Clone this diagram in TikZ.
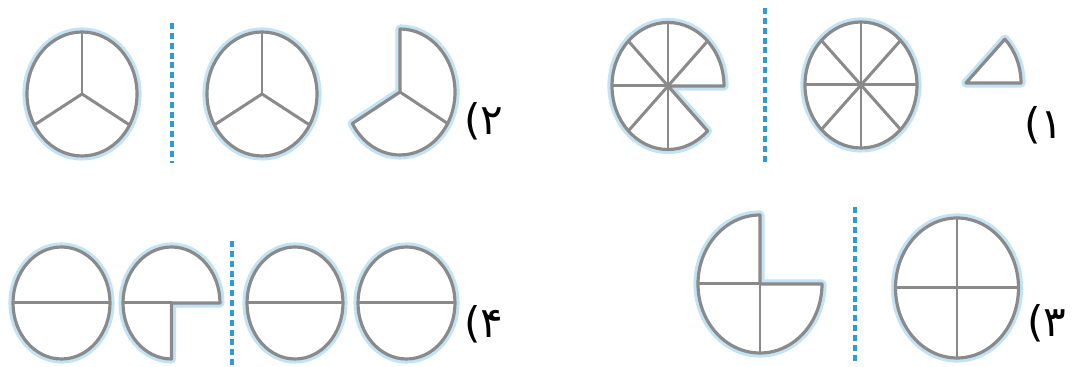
\documentclass[tikz,border=0pt]{standalone}
\usepackage{fontspec}
\newfontfamily\arabicfont{DejaVu Sans}
\definecolor{rimgray}{HTML}{8A8A8A}
\definecolor{glowblue}{HTML}{C2E2F5}
\definecolor{dashblue}{HTML}{2E9AD6}
\tikzset{
  glow/.style={draw=glowblue, line width=2.6pt, line join=round},
  rim/.style={draw=rimgray, line width=0.9pt, line join=round, fill=white},
  spoke/.style={draw=rimgray, line width=0.85pt},
  divider/.style={draw=dashblue, line width=0.9pt, dash pattern=on 1.7pt off 1.1pt},
  numlabel/.style={font=\arabicfont\fontsize{12}{14}\selectfont, inner sep=0pt}
}
\begin{document}
\begin{tikzpicture}[x=0.01cm, y=0.01cm]
\useasboundingbox (0,0) rectangle (1090,367);
% ---------- row 1, left group (2) ----------
% A
\coordinate (A) at (82,273);
\path[glow] (A) ellipse [x radius=55, y radius=62];
\path[rim] (A) ellipse [x radius=55, y radius=62];
\foreach \a in {90,210,330} \draw[spoke] (A) -- ++(\a:55 and 62);
% divider 1
\coordinate (d1t) at (172,344); \coordinate (d1b) at (172,204);
\draw[divider] (d1t) -- (d1b);
% B
\coordinate (B) at (262,273);
\path[glow] (B) ellipse [x radius=55, y radius=62];
\path[rim] (B) ellipse [x radius=55, y radius=62];
\foreach \a in {90,210,330} \draw[spoke] (B) -- ++(\a:55 and 62);
% C
\coordinate (C) at (400,275);
\path[glow] (C) -- ++(90:55 and 63) arc[start angle=90, end angle=-150, x radius=55, y radius=63] -- cycle;
\path[rim] (C) -- ++(90:55 and 63) arc[start angle=90, end angle=-150, x radius=55, y radius=63] -- cycle;
\draw[spoke] (C) -- ++(-30:55 and 63);
\node[numlabel] (L2) at (484,246) {(۲};
% ---------- row 1, right group (1) ----------
% D
\coordinate (D) at (668,281);
\path[glow] (D) -- ++(0:56 and 63.5) arc[start angle=0, end angle=315, x radius=56, y radius=63.5] -- cycle;
\path[rim] (D) -- ++(0:56 and 63.5) arc[start angle=0, end angle=315, x radius=56, y radius=63.5] -- cycle;
\foreach \a in {45,90,...,270} \draw[spoke] (D) -- ++(\a:56 and 63.5);
% divider 2
\coordinate (d2t) at (765,359); \coordinate (d2b) at (765,204);
\draw[divider] (d2t) -- (d2b);
% E
\coordinate (E) at (861,282);
\path[glow] (E) ellipse [x radius=56, y radius=63];
\path[rim] (E) ellipse [x radius=56, y radius=63];
\foreach \a in {0,45,...,315} \draw[spoke] (E) -- ++(\a:56 and 63);
% F
\coordinate (F) at (966,284);
\path[glow] (F) -- ++(0:55 and 62) arc[start angle=0, end angle=45, x radius=55, y radius=62] -- cycle;
\path[rim] (F) -- ++(0:55 and 62) arc[start angle=0, end angle=45, x radius=55, y radius=62] -- cycle;
\node[numlabel] (L1) at (1044,242) {(۱};
% ---------- row 2, left group (4) ----------
% G
\coordinate (G) at (61.5,64);
\path[glow] (G) ellipse [x radius=48.5, y radius=56];
\path[rim] (G) ellipse [x radius=48.5, y radius=56];
\draw[spoke] (G) -- ++(180:48.5 and 56); \draw[spoke] (G) -- ++(0:48.5 and 56);
% H
\coordinate (H) at (171.5,64);
\path[glow] (H) -- ++(0:48.5 and 56) arc[start angle=0, end angle=270, x radius=48.5, y radius=56] -- cycle;
\path[rim] (H) -- ++(0:48.5 and 56) arc[start angle=0, end angle=270, x radius=48.5, y radius=56] -- cycle;
\draw[spoke] (H) -- ++(180:48.5 and 56);
% divider 3
\coordinate (d3t) at (232,126); \coordinate (d3b) at (232,1);
\draw[divider] (d3t) -- (d3b);
% I
\coordinate (I) at (295,64);
\path[glow] (I) ellipse [x radius=48, y radius=56];
\path[rim] (I) ellipse [x radius=48, y radius=56];
\draw[spoke] (I) -- ++(180:48 and 56); \draw[spoke] (I) -- ++(0:48 and 56);
% J
\coordinate (J) at (406.5,64);
\path[glow] (J) ellipse [x radius=48.5, y radius=56];
\path[rim] (J) ellipse [x radius=48.5, y radius=56];
\draw[spoke] (J) -- ++(180:48.5 and 56); \draw[spoke] (J) -- ++(0:48.5 and 56);
\node[numlabel] (L4) at (484,43) {(۴};
% ---------- row 2, right group (3) ----------
% K
\coordinate (K) at (760,83);
\path[glow] (K) -- ++(90:62 and 69) arc[start angle=90, end angle=360, x radius=62, y radius=69] -- cycle;
\path[rim] (K) -- ++(90:62 and 69) arc[start angle=90, end angle=360, x radius=62, y radius=69] -- cycle;
\draw[spoke] (K) -- ++(180:62 and 69); \draw[spoke] (K) -- ++(270:62 and 69);
% divider 4
\coordinate (d4t) at (855,160); \coordinate (d4b) at (855,6);
\draw[divider] (d4t) -- (d4b);
% L
\coordinate (Lc) at (957,79);
\path[glow] (Lc) ellipse [x radius=61.5, y radius=70];
\path[rim] (Lc) ellipse [x radius=61.5, y radius=70];
\foreach \a in {0,90,180,270} \draw[spoke] (Lc) -- ++(\a:61.5 and 70);
\node[numlabel] (L3) at (1047,44) {(۳};
\end{tikzpicture}
\end{document}
